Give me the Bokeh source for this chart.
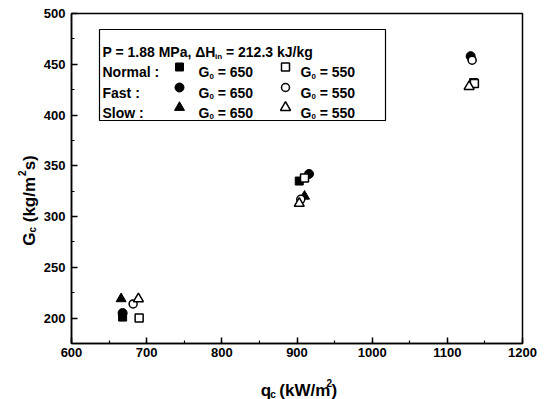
import math
from bokeh.plotting import figure
from bokeh.layouts import row, column
from bokeh.models import Label, Range1d, SingleIntervalTicker, BoxAnnotation
from bokeh.embed import file_html
from bokeh.resources import INLINE

# ---- data ----
q_normal_650 = [668, 903, 1135]
G_normal_650 = [201, 335, 432]
q_normal_550 = [690, 910, 1136]
G_normal_550 = [200, 338, 431]
q_fast_650 = [668, 916, 1131]
G_fast_650 = [205, 342, 458]
q_fast_550 = [682, 905, 1133]
G_fast_550 = [214, 317, 454]
q_slow_650 = [666, 910, 1134]
G_slow_650 = [219, 320, 430]
q_slow_550 = [689, 903, 1129]
G_slow_550 = [219, 313, 428]

x_ticks_interval = 100
y_ticks_interval = 50
legend_header = ["P = 1.88 MPa, \u0394H", "in", " = 212.3 kJ/kg"]
row_labels = ["Normal :", "Fast :", "Slow :"]
g0_values = ["650", "550"]

FONT = "Liberation Sans"
XMIN, XMAX, YMIN, YMAX = 600, 1200, 175, 500
FL, FT, FW, FH = 69, 13, 451, 330   # frame position in page pixels
YLAB_W = 40                          # width of the y-label strip
MAIN_BOTTOM = 22
MAIN_RIGHT = 20
PAGE_H = 399
MAIN_H = FT + FH + MAIN_BOTTOM
MAIN_W = (FL - YLAB_W) + FW + MAIN_RIGHT


def X(px):
    return XMIN + (px - FL) * (XMAX - XMIN) / FW


def Y(py):
    return YMAX - (py - FT) * (YMAX - YMIN) / FH


p = figure(frame_width=FW, frame_height=FH,
           min_border_left=FL - YLAB_W, min_border_right=MAIN_RIGHT,
           min_border_top=FT, min_border_bottom=MAIN_BOTTOM,
           x_range=Range1d(XMIN, XMAX), y_range=Range1d(YMIN, YMAX),
           output_backend="svg", toolbar_location=None, tools="")
p.grid.visible = False
p.outline_line_color = "black"
p.outline_line_width = 1.5
p.outline_line_alpha = 1.0
p.background_fill_color = "white"
p.border_fill_color = "white"

p.xaxis.ticker = SingleIntervalTicker(interval=x_ticks_interval, num_minor_ticks=2)
p.yaxis.ticker = SingleIntervalTicker(interval=y_ticks_interval, num_minor_ticks=2)
for ax in (p.xaxis[0], p.yaxis[0]):
    ax.axis_line_color = "black"
    ax.axis_line_width = 1.5
    ax.major_tick_in = 6
    ax.major_tick_out = 0
    ax.minor_tick_in = 3
    ax.minor_tick_out = 0
    ax.major_tick_line_width = 1.5
    ax.minor_tick_line_width = 1.2
    ax.major_tick_line_color = "black"
    ax.minor_tick_line_color = "black"
    ax.major_label_text_font = FONT
    ax.major_label_text_font_style = "bold"
    ax.major_label_text_font_size = "13px"
    ax.major_label_text_color = "black"
p.xaxis.major_label_standoff = 4
p.yaxis.major_label_standoff = 6

# ---- legend box (under the glyphs) ----
p.add_layout(BoxAnnotation(left=X(97), right=X(383), top=Y(29), bottom=Y(120),
                           fill_color="white", fill_alpha=1.0, level="underlay",
                           line_color="black", line_width=1.2, line_alpha=1.0))

# ---- data marks ----
filled = dict(color="black")
opened = dict(fill_color="white", line_color="black", line_width=1.5)
p.scatter(q_normal_650, G_normal_650, marker="square", size=8, **filled)
p.scatter(q_fast_650, G_fast_650, marker="circle", size=9, **filled)
p.scatter(q_slow_650, G_slow_650, marker="triangle", size=10, **filled)
p.scatter(q_normal_550, G_normal_550, marker="square", size=8, **opened)
p.scatter(q_fast_550, G_fast_550, marker="circle", size=8, **opened)
p.scatter(q_slow_550, G_slow_550, marker="triangle", size=10, **opened)

# ---- text helpers ----
WID = {' ': .278, '(': .333, ')': .333, '/': .278, '=': .584, ',': .278, '.': .278,
       ':': .333, '\u0394': .668, 'G': .778, 'H': .722, 'M': .833, 'N': .722,
       'P': .667, 'S': .667, 'F': .611, 'J': .556, 'W': .944, 'a': .556, 'c': .556,
       'g': .611, 'i': .278, 'k': .556, 'l': .278, 'm': .889, 'n': .611, 'o': .611,
       'q': .611, 'r': .389, 's': .556, 't': .333, 'w': .778}


def tw(s, size):
    return sum(WID.get(ch, .556) for ch in s) * size


def run(fig, fx, fy, px, py, segs, angle=0.0):
    """segs: (text, font px, baseline shift px (+ = down), gap px before)"""
    pos = 0.0
    for seg in segs:
        text, size, dy = seg[:3]
        gap = seg[3] if len(seg) > 3 else 0.0
        pos += gap
        stripped = text.lstrip()
        lead = tw(text[:len(text) - len(stripped)], size)
        stripped = stripped.rstrip()
        if stripped:
            if angle == 0:
                x, y = fx(px + pos + lead), fy(py + dy)
            else:
                x, y = fx(px + dy), fy(py - pos - lead)
            fig.add_layout(Label(x=x, y=y, text=stripped, angle=angle,
                                 text_font=FONT, text_font_style="bold",
                                 text_font_size=f"{size}px", text_baseline="alphabetic",
                                 text_align="left", text_color="black"))
        pos += tw(text, size)
    return pos


def run_len(segs):
    return sum(tw(s[0], s[1]) + (s[3] if len(s) > 3 else 0) for s in segs)


def strip_fig(w, h, xr, yr):
    f = figure(width=w, height=h, x_range=Range1d(*xr), y_range=Range1d(*yr),
               x_axis_type=None, y_axis_type=None, min_border=0,
               output_backend="svg", toolbar_location=None, tools="")
    f.grid.visible = False
    f.outline_line_color = None
    f.background_fill_color = "white"
    f.border_fill_color = "white"
    return f


ident = lambda v: v

# ---- y axis label strip (page pixels as coordinates) ----
fy_lab = strip_fig(YLAB_W, PAGE_H, (0, YLAB_W), (PAGE_H, 0))
yl = [("G", 17, 0), ("c", 10, 3), (" (kg/m", 17, 0), ("2", 10, -8, 1), ("s)", 17, 0)]
run(fy_lab, ident, ident, 29, 200 + run_len(yl) / 2, yl, angle=math.pi / 2)

# ---- x axis label strip ----
fx_lab = strip_fig(MAIN_W, PAGE_H - MAIN_H, (YLAB_W, YLAB_W + MAIN_W), (PAGE_H, MAIN_H))
xl = [("q", 17, 0), ("c", 10, 4), (" (kW/m", 17, 0), ("2", 10, -8, 1.5), (")", 17, 0)]
run(fx_lab, ident, ident, 293 - run_len(xl) / 2, 390, xl)

# ---- legend contents ----
row_y = [66.5, 87, 107]
run(p, X, Y, 100, 46.5 + 5,
    [(legend_header[0], 14, 0), (legend_header[1], 8, 4), (legend_header[2], 14, 0)])
markers = ["square", "circle", "triangle"]
msize = [8, 9, 10]
for i, lab in enumerate(row_labels):
    base = row_y[i] + 5
    run(p, X, Y, 100, base, [(lab, 14, 0)])
    p.scatter([X(177)], [Y(row_y[i])], marker=markers[i], size=msize[i], color="black")
    p.scatter([X(283)], [Y(row_y[i])], marker=markers[i], size=msize[i] - (1 if i == 1 else 0),
              fill_color="white", line_color="black", line_width=1.5)
    run(p, X, Y, 196, base, [("G", 14, 0), ("0", 8, 4), (" = " + g0_values[0], 14, 0)])
    run(p, X, Y, 298, base, [("G", 14, 0), ("0", 8, 4), (" = " + g0_values[1], 14, 0)])

layout = row(fy_lab, column(p, fx_lab, spacing=0), spacing=0)
open("out.html", "w").write(file_html(layout, INLINE))
